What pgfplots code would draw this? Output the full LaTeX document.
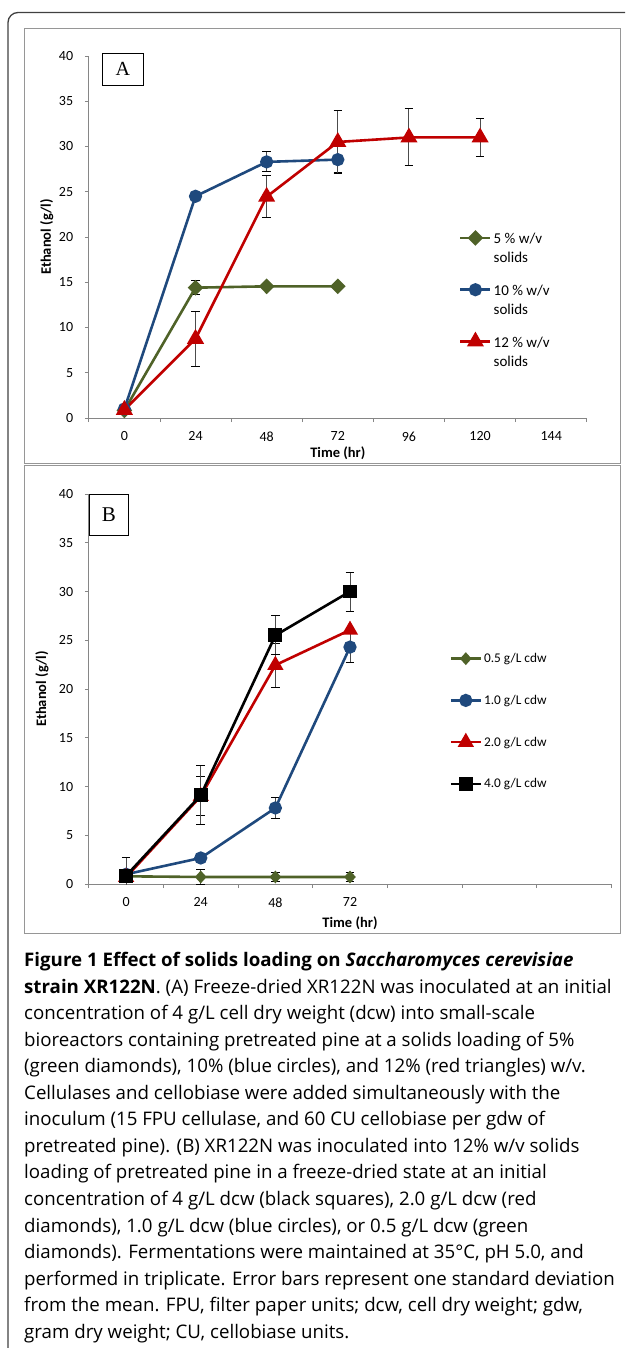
\documentclass[border=0pt]{standalone}
\usepackage{pgfplots}
\pgfplotsset{compat=1.18}
\usepackage{fontspec}
\setmainfont{Carlito}
\newfontfamily\capfont{Open Sans}
\newfontfamily\panelfont{Liberation Serif}

\definecolor{cgreen}{RGB}{79,98,40}
\definecolor{cblue}{RGB}{31,73,125}
\definecolor{cred}{RGB}{192,0,0}
\definecolor{boxgray}{RGB}{150,150,150}
\definecolor{axisgray}{RGB}{134,134,134}

\newcommand{\lgA}[1]{\fontsize{15}{19}\selectfont\begin{tabular}[t]{@{}l@{}}#1 \% w/v\\solids\end{tabular}}
\newcommand{\lgB}[1]{\fontsize{13.3}{14}\selectfont #1}

\pgfplotsset{
  excel/.style={
    scale only axis,
    axis lines*=left,
    axis line style={axisgray, line width=0.8pt},
    xmin=-0.5, xmax=6.5, ymin=0, ymax=40,
    xtick={-0.5,0.5,1.5,2.5,3.5,4.5,5.5,6.5},
    x tick label as interval,
    ytick={0,5,...,40},
    tick style={axisgray, line width=0.8pt},
    tick align=outside,
    major tick length=4pt,
    /pgf/number format/assume math mode=true,
    xticklabel style={font=\fontsize{14}{14}\selectfont, yshift=-5pt},
    yticklabel style={font=\fontsize{14}{14}\selectfont, xshift=-7pt},
    legend image code/.code={\draw[mark repeat=2,mark phase=2] plot coordinates {(0pt,0pt) (15pt,0pt) (30pt,0pt)};},
    legend style={draw=none, fill=none, inner sep=0pt, anchor=north west, cells={anchor=west}},
    line width=2.6pt,
  },
  % error bars only: gray whisker, black cap at each end
  errs/.style={black, only marks, mark=none, forget plot,
    error bars/.cd, y dir=both, y explicit,
    draw error bar/.code 2 args={%
      \draw[black!70, solid, line width=1pt] ##1 -- ##2;
      \draw[black, solid, line width=1pt] ##2 ++(-4.3pt,0pt) -- ++(8.6pt,0pt);
    }},
}

\begin{document}
\begin{tikzpicture}
\begin{scope}[x=1pt,y=-1pt]
\useasboundingbox (0,0) rectangle (625,1348);
\draw[line width=1.3pt, black!75, rounded corners=10pt] (625,12.5) -- (8,12.5) -- (8,1348);
\draw[boxgray, line width=1pt] (24,29) rectangle (620,463);
\draw[boxgray, line width=1pt] (24,465) rectangle (620,933);
\end{scope}

% Panel A
\begin{axis}[excel,
  at={(88.8pt,-418pt)}, anchor=south west,
  width=498pt, height=362pt,
  xticklabels={0,24,48,72,96,120,144},
  xlabel={Time (hr)}, ylabel={Ethanol (g/l)},
  every axis x label/.style={at={(axis description cs:0.5,-0.0967)}, anchor=center,
    font=\bfseries\fontsize{14.5}{14.5}\selectfont},
  every axis y label/.style={at={(axis description cs:-0.0843,0.5)}, rotate=90, anchor=center,
    font=\bfseries\fontsize{14.5}{14.5}\selectfont},
  legend style={at={(axis description cs:0.741,0.527)}, row sep=33pt},
]
\addplot[errs] coordinates {(1,14.4) +- (0,0.8)};
\addplot[errs] coordinates {(2,28.3) +- (0,1.1) (3,28.55) +- (0,1.45)};
\addplot[errs] coordinates {(1,8.75) +- (0,3.05) (2,24.45) +- (0,2.3) (3,30.5) +- (0,3.45) (4,31.0) +- (0,3.15) (5,31.0) +- (0,2.05)};
\addplot[cgreen, mark=diamond*, mark size=6pt, mark options={xscale=1.33}] coordinates {(0,0.85)(1,14.4)(2,14.55)(3,14.55)};
\addlegendentry{\lgA{5}}
\addplot[cblue, mark=*, mark size=5.3pt] coordinates {(0,1.0)(1,24.5)(2,28.3)(3,28.55)};
\addlegendentry{\lgA{10}}
\addplot[cred, mark=triangle*, mark size=7.3pt] coordinates {(0,0.9)(1,8.75)(2,24.45)(3,30.5)(4,31.0)(5,31.0)};
\addlegendentry{\lgA{12}}
\end{axis}

% Panel B
\begin{axis}[excel,
  at={(88.8pt,-884pt)}, anchor=south west,
  width=522.4pt, height=390pt,
  xticklabels={0,24,48,72,,,},
  xlabel={Time (hr)}, ylabel={Ethanol (g/l)},
  every axis x label/.style={at={(axis description cs:0.5,-0.1)}, anchor=center,
    font=\bfseries\fontsize{14.5}{14.5}\selectfont},
  every axis y label/.style={at={(axis description cs:-0.0896,0.5)}, rotate=90, anchor=center,
    font=\bfseries\fontsize{14.5}{14.5}\selectfont},
  legend style={at={(axis description cs:0.688,0.6)}, row sep=27pt},
]
\addplot[errs] coordinates {(1,0.72) +- (0,0.75) (2,0.72) +- (0,0.5) (3,0.72) +- (0,0.5)};
\addplot[errs] coordinates {(2,7.8) +- (0,1.1) (3,24.3) +- (0,1.6)};
\addplot[errs] coordinates {(1,9.0) +- (0,2.0) (2,22.45) +- (0,2.25)};
\addplot[errs] coordinates {(0,0.85) +- (0,1.92) (1,9.15) +- (0,3.0) (2,25.5) +- (0,2.0) (3,30.0) +- (0,2.0)};
\addplot[cgreen, mark=diamond*, mark size=4.5pt, mark options={xscale=1.2}] coordinates {(0,0.79)(1,0.72)(2,0.72)(3,0.72)};
\addlegendentry{\lgB{0.5 g/L cdw}}
\addplot[cblue, mark=*, mark size=5.3pt] coordinates {(0,1.0)(1,2.67)(2,7.8)(3,24.3)};
\addlegendentry{\lgB{1.0 g/L cdw}}
\addplot[cred, mark=triangle*, mark size=6.8pt] coordinates {(0,0.7)(1,9.0)(2,22.45)(3,26.05)};
\addlegendentry{\lgB{2.0 g/L cdw}}
\addplot[black, mark=square*, mark size=5.6pt] coordinates {(0,0.85)(1,9.1)(2,25.5)(3,30.0)};
\addlegendentry{\lgB{4.0 g/L cdw}}
\end{axis}

\begin{scope}[x=1pt,y=-1pt]
\node[draw=black, line width=0.8pt, fill=white, minimum width=41.6pt, minimum height=32pt, inner sep=0pt, anchor=north west]
  at (101.6,53) {\panelfont\fontsize{20}{20}\selectfont A};
\node[draw=black, line width=0.8pt, fill=white, minimum width=39.2pt, minimum height=41pt, inner sep=0pt, anchor=north west]
  at (88.8,494) {\panelfont\fontsize{21}{21}\selectfont B};
\node[anchor=north west, inner sep=0pt, align=left,
  font=\capfont\fontsize{18.7}{26.55}\selectfont] at (24,952) {%
\textbf{Figure 1 Effect of solids loading on \textit{Saccharomyces cerevisiae}}\\
\textbf{strain XR122N}. (A) Freeze-dried XR122N was inoculated at an initial\\
concentration of 4 g/L cell dry weight (dcw) into small-scale\\
bioreactors containing pretreated pine at a solids loading of 5\%\\
(green diamonds), 10\% (blue circles), and 12\% (red triangles) w/v.\\
Cellulases and cellobiase were added simultaneously with the\\
inoculum (15 FPU cellulase, and 60 CU cellobiase per gdw of\\
pretreated pine). (B) XR122N was inoculated into 12\% w/v solids\\
loading of pretreated pine in a freeze-dried state at an initial\\
concentration of 4 g/L dcw (black squares), 2.0 g/L dcw (red\\
diamonds), 1.0 g/L dcw (blue circles), or 0.5 g/L dcw (green\\
diamonds). Fermentations were maintained at 35°C, pH 5.0, and\\
performed in triplicate. Error bars represent one standard deviation\\
from the mean. FPU, filter paper units; dcw, cell dry weight; gdw,\\
gram dry weight; CU, cellobiase units.};
\end{scope}
\end{tikzpicture}
\end{document}
